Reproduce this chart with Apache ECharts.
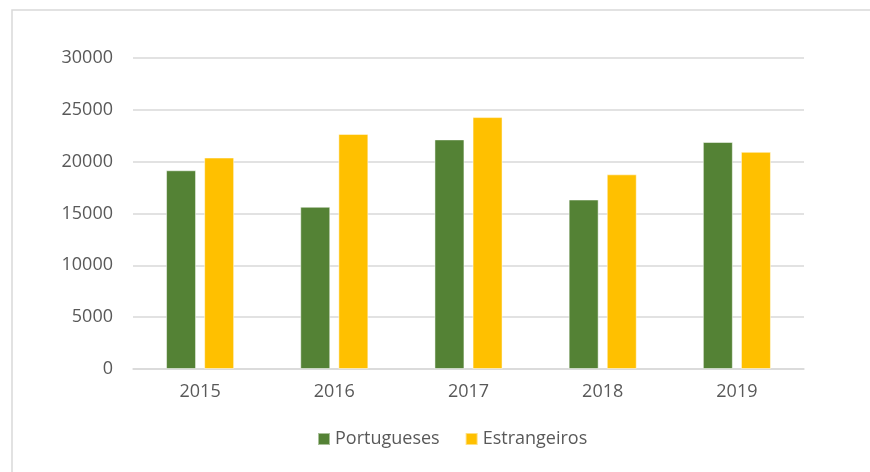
<!DOCTYPE html>
<html>
<head>
<meta charset="utf-8">
<title>Portugueses / Estrangeiros</title>
<script src="https://cdn.jsdelivr.net/npm/echarts@6/dist/echarts.min.js"></script>
<style>
  html, body { margin: 0; padding: 0; background: #fff; }
  #chart { width: 870px; height: 472px; }
</style>
</head>
<body>
<div id="chart"></div>
<script>
// dados
var years = ['2015', '2016', '2017', '2018', '2019'];
var portugueses = [19170, 15650, 22150, 16350, 21900];
var estrangeiros = [20400, 22680, 24300, 18780, 20950];
var seriesNames = ['Portugueses', 'Estrangeiros'];

var chart = echarts.init(document.getElementById('chart'));
var font = '"Open Sans", "Noto Sans", sans-serif';

var option = {
	animation: false,
	textStyle: { fontFamily: font },
	graphic: [{
		type: 'polyline',
		shape: { points: [[12, 472], [12, 10], [870, 10]] },
		style: { stroke: '#d9d9d9', lineWidth: 1.5, fill: null }
	}],
	legend: {
		data: seriesNames,
		bottom: 19,
		left: 312,
		icon: 'rect',
		itemWidth: 12,
		itemHeight: 12,
		itemGap: 25,
		textStyle: { color: '#595959', fontSize: 18, fontFamily: font }
	},
	grid: {
		left: 133,
		right: 66,
		top: 58,
		bottom: 103
	},
	xAxis: {
		type: 'category',
		data: years,
		axisLine: { lineStyle: { color: '#d9d9d9', width: 1.5 } },
		axisTick: { show: false },
		axisLabel: { color: '#595959', fontSize: 18, margin: 14 }
	},
	yAxis: {
		type: 'value',
		min: 0,
		max: 30000,
		interval: 5000,
		axisLine: { show: false },
		axisTick: { show: false },
		axisLabel: {
			color: '#595959',
			fontSize: 18,
			margin: 20,
			formatter: function (v) { return String(v); }
		},
		splitLine: { lineStyle: { color: '#d9d9d9', width: 1.5 } }
	},
	series: [{
		name: seriesNames[0],
		type: 'bar',
		data: portugueses,
		barWidth: 30,
		barGap: '27%',
		itemStyle: { color: '#548235', borderColor: 'rgba(255,255,255,0.5)', borderWidth: 1 }
	}, {
		name: seriesNames[1],
		type: 'bar',
		data: estrangeiros,
		barWidth: 30,
		barGap: '27%',
		itemStyle: { color: '#ffc000', borderColor: 'rgba(255,255,255,0.5)', borderWidth: 1 }
	}]
};

chart.setOption(option);
</script>
</body>
</html>
